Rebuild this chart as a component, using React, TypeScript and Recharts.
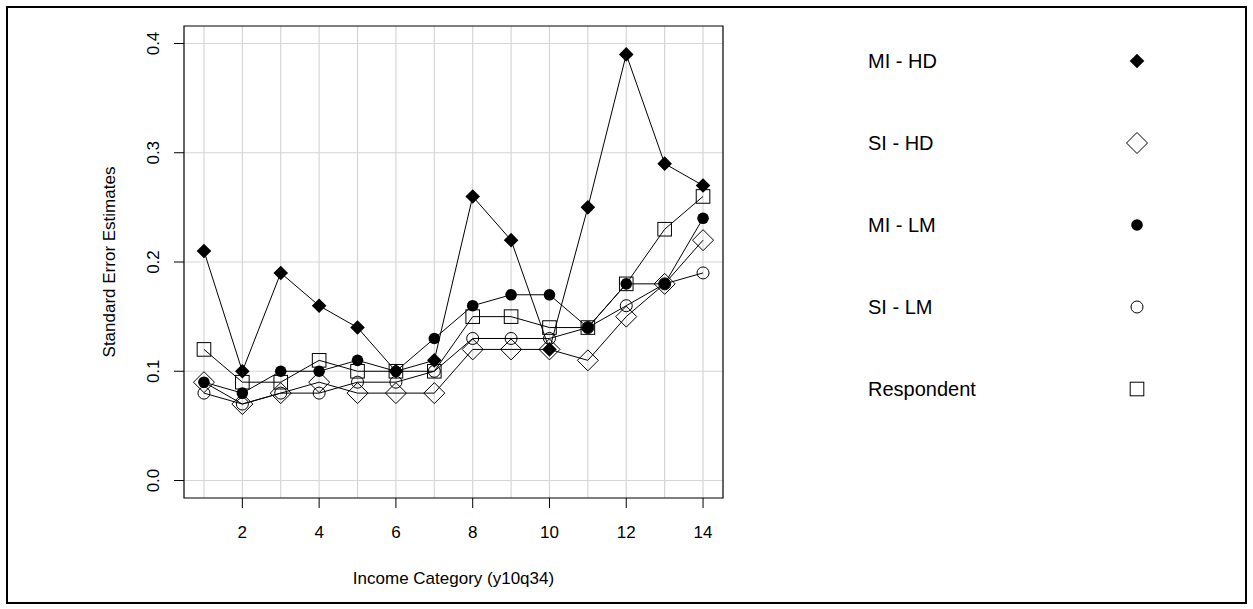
import { CartesianGrid, Label, Legend, Line, LineChart, ReferenceArea, XAxis, YAxis } from "recharts";

const categories = [1, 2, 3, 4, 5, 6, 7, 8, 9, 10, 11, 12, 13, 14];
const miHd = [0.21, 0.1, 0.19, 0.16, 0.14, 0.1, 0.11, 0.26, 0.22, 0.12, 0.25, 0.39, 0.29, 0.27];
const siHd = [0.09, 0.07, 0.08, 0.09, 0.08, 0.08, 0.08, 0.12, 0.12, 0.12, 0.11, 0.15, 0.18, 0.22];
const miLm = [0.09, 0.08, 0.1, 0.1, 0.11, 0.1, 0.13, 0.16, 0.17, 0.17, 0.14, 0.18, 0.18, 0.24];
const siLm = [0.08, 0.07, 0.08, 0.08, 0.09, 0.09, 0.1, 0.13, 0.13, 0.13, 0.14, 0.16, 0.18, 0.19];
const respondent = [0.12, 0.09, 0.09, 0.11, 0.1, 0.1, 0.1, 0.15, 0.15, 0.14, 0.14, 0.18, 0.23, 0.26];

const xTicks = [2, 4, 6, 8, 10, 12, 14];
const yTicks = [0, 0.1, 0.2, 0.3, 0.4];
const xDomain: [number, number] = [0.48, 14.52];
const yDomain: [number, number] = [-0.016, 0.416];

const data = categories.map((category, i) => ({
  category,
  miHd: miHd[i],
  siHd: siHd[i],
  miLm: miLm[i],
  siLm: siLm[i],
  respondent: respondent[i],
}));

type MarkerKind = "diamondFilled" | "diamondOpen" | "circleFilled" | "circleOpen" | "square";

const series: { key: string; name: string; marker: MarkerKind }[] = [
  { key: "miHd", name: "MI - HD", marker: "diamondFilled" },
  { key: "siHd", name: "SI - HD", marker: "diamondOpen" },
  { key: "miLm", name: "MI - LM", marker: "circleFilled" },
  { key: "siLm", name: "SI - LM", marker: "circleOpen" },
  { key: "respondent", name: "Respondent", marker: "square" },
];

const FONT = "'Liberation Sans', Arial, sans-serif";

function diamond(cx: number, cy: number, r: number) {
  return `M${cx},${cy - r}L${cx + r},${cy}L${cx},${cy + r}L${cx - r},${cy}Z`;
}

function Marker({ kind, cx, cy }: { kind: MarkerKind; cx: number; cy: number }) {
  switch (kind) {
    case "diamondFilled":
      return <path d={diamond(cx, cy, 7.3)} fill="#000" />;
    case "diamondOpen":
      return <path d={diamond(cx, cy, 10.5)} fill="none" stroke="#000" strokeWidth={1} />;
    case "circleFilled":
      return <circle cx={cx} cy={cy} r={5.8} fill="#000" />;
    case "circleOpen":
      return <circle cx={cx} cy={cy} r={6} fill="none" stroke="#000" strokeWidth={1} />;
    default:
      return <rect x={cx - 6.8} y={cy - 6.8} width={13.6} height={13.6} fill="none" stroke="#000" strokeWidth={1} />;
  }
}

function makeDot(kind: MarkerKind) {
  return (props: any) => {
    const { cx, cy, index } = props;
    if (cx == null || cy == null) return <g key={`dot-${kind}-${index}`} />;
    return (
      <g key={`dot-${kind}-${index}`}>
        <Marker kind={kind} cx={cx} cy={cy} />
      </g>
    );
  };
}

function YTick(props: any) {
  const { x, y, payload } = props;
  return (
    <text
      x={x}
      y={y}
      transform={`rotate(-90, ${x}, ${y})`}
      textAnchor="middle"
      fontSize={17}
      fontFamily={FONT}
      fill="#000"
    >
      {Number(payload.value).toFixed(1)}
    </text>
  );
}

// keep the legend in the same order as the series, not sorted by name
function LegendContent() {
  return (
    <div style={{ fontFamily: FONT }}>
      {series.map((s) => (
        <div key={s.key} style={{ position: "relative", height: 82 }}>
          <span style={{ position: "absolute", left: 8, top: 0, lineHeight: "82px", fontSize: 20, color: "#000" }}>
            {s.name}
          </span>
          <svg style={{ position: "absolute", left: 262, top: 26 }} width={30} height={30}>
            <Marker kind={s.marker} cx={15} cy={15} />
          </svg>
        </div>
      ))}
    </div>
  );
}

export default function App() {
  return (
    <div style={{ position: "absolute", left: 0, top: 0, width: 1253, height: 609, background: "#fff" }}>
      <div
        style={{
          position: "absolute",
          left: 6,
          top: 6,
          width: 1241,
          height: 598,
          border: "2px solid #000",
          boxSizing: "border-box",
        }}
      />
      <LineChart
        width={1253}
        height={609}
        data={data}
        margin={{ top: 26, right: 530, left: 124, bottom: 71 }}
        style={{ fontFamily: FONT }}
      >
        <CartesianGrid
          stroke="#d6d6d6"
          strokeWidth={1.2}
          verticalValues={categories}
          horizontalValues={yTicks}
        />
        <XAxis
          type="number"
          dataKey="category"
          domain={xDomain}
          ticks={xTicks}
          allowDataOverflow
          height={40}
          axisLine={false}
          tickSize={10}
          tickMargin={18}
          tickLine={{ stroke: "#000" }}
          tick={{ fill: "#000", fontSize: 17, fontFamily: FONT }}
        >
          <Label
            content={(p: any) => {
              const vb = p.viewBox;
              return (
                <text
                  x={vb.x + vb.width / 2}
                  y={vb.y + 80}
                  textAnchor="middle"
                  dominantBaseline="central"
                  fontSize={17}
                  fontFamily={FONT}
                  fill="#000"
                >
                  Income Category (y10q34)
                </text>
              );
            }}
          />
        </XAxis>
        <YAxis
          type="number"
          domain={yDomain}
          ticks={yTicks}
          allowDataOverflow
          width={60}
          axisLine={false}
          tickSize={10}
          tickMargin={15.4}
          tickLine={{ stroke: "#000" }}
          tick={<YTick />}
        >
          <Label
            content={(p: any) => {
              const vb = p.viewBox;
              const x = vb.x + vb.width - 75;
              const y = vb.y + vb.height / 2;
              return (
                <text
                  x={x}
                  y={y}
                  transform={`rotate(-90, ${x}, ${y})`}
                  textAnchor="middle"
                  dominantBaseline="central"
                  fontSize={17}
                  fontFamily={FONT}
                  fill="#000"
                >
                  Standard Error Estimates
                </text>
              );
            }}
          />
        </YAxis>
        <ReferenceArea
          x1={xDomain[0]}
          x2={xDomain[1]}
          y1={yDomain[0]}
          y2={yDomain[1]}
          fill="none"
          stroke="#000"
          strokeWidth={1.2}
          ifOverflow="visible"
        />
        {series.map((s) => (
          <Line
            key={s.key}
            dataKey={s.key}
            name={s.name}
            type="linear"
            stroke="#000"
            strokeWidth={1}
            dot={makeDot(s.marker)}
            activeDot={false}
            isAnimationActive={false}
          />
        ))}
        <Legend
          layout="vertical"
          align="center"
          verticalAlign="middle"
          content={<LegendContent />}
          wrapperStyle={{ left: 860, top: 20, width: 320 }}
        />
      </LineChart>
    </div>
  );
}
